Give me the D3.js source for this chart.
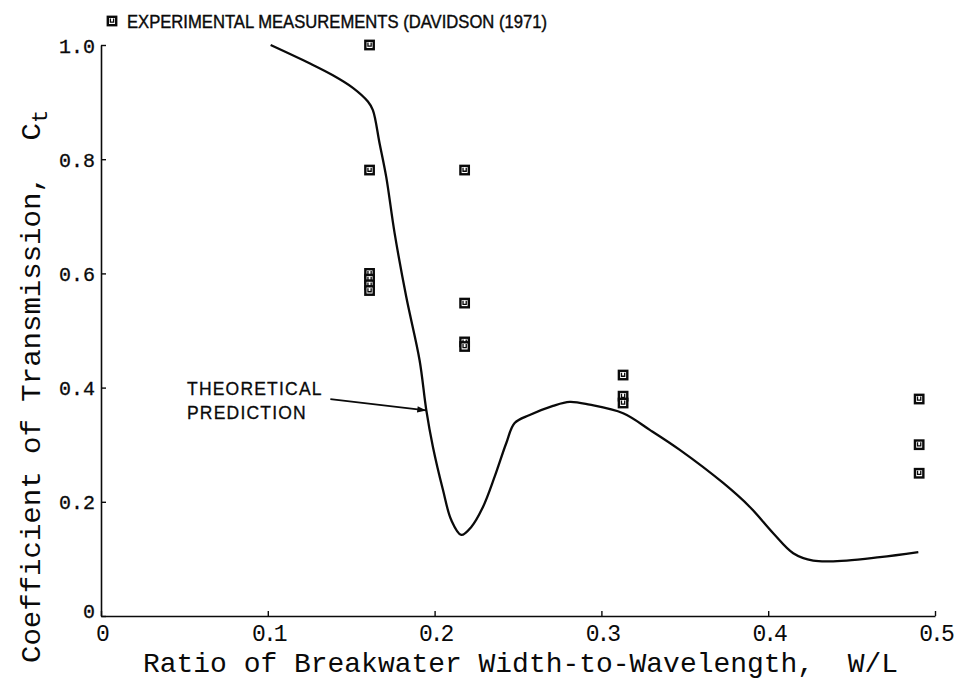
<!DOCTYPE html>
<html>
<head>
<meta charset="utf-8">
<script src="https://cdn.jsdelivr.net/npm/d3@7"></script>
<style>
  body { margin: 0; background: #fff; }
  svg { display: block; }
</style>
</head>
<body>
<svg id="chart" width="956" height="681"></svg>
<script>
// theoretical prediction curve (W/L, Ct)
const curveX = [0.1017, 0.125, 0.139, 0.151, 0.160, 0.163, 0.167, 0.171, 0.176, 0.183, 0.191, 0.195, 0.199,
  0.205, 0.210, 0.216, 0.222, 0.229, 0.236, 0.243, 0.248, 0.257, 0.271, 0.281, 0.293, 0.313, 0.329, 0.347,
  0.373, 0.389, 0.403, 0.415, 0.427, 0.447, 0.467, 0.490];
const curveY = [1.0, 0.968, 0.947, 0.925, 0.901, 0.886, 0.828, 0.769, 0.671, 0.559, 0.448, 0.361, 0.296,
  0.221, 0.168, 0.142, 0.156, 0.191, 0.244, 0.303, 0.338, 0.352, 0.368, 0.375, 0.370, 0.355, 0.326, 0.291,
  0.233, 0.191, 0.145, 0.110, 0.097, 0.097, 0.103, 0.112];

// experimental measurements, Davidson (1971)
const measX = [0.161, 0.161, 0.161, 0.161, 0.161, 0.161,
  0.218, 0.218, 0.218, 0.218,
  0.313, 0.313, 0.313,
  0.4905, 0.4905, 0.4905];
const measY = [1.0, 0.781, 0.600, 0.590, 0.580, 0.570,
  0.781, 0.548, 0.480, 0.472,
  0.422, 0.385, 0.373,
  0.380, 0.300, 0.250];

const xTicks = [0, 0.1, 0.2, 0.3, 0.4, 0.5];
const xTickLabels = ["0", "0.1", "0.2", "0.3", "0.4", "0.5"];
const yTicks = [0, 0.2, 0.4, 0.6, 0.8, 1.0];
const yTickLabels = ["0", "0.2", "0.4", "0.6", "0.8", "1.0"];

const legendText = "EXPERIMENTAL MEASUREMENTS (DAVIDSON (1971)";
const xTitle = "Ratio of Breakwater Width-to-Wavelength,\u00a0\u00a0W/L";
const yTitle = "Coefficient of Transmission,\u00a0\u00a0C";
const noteLines = ["THEORETICAL", "PREDICTION"];

const svg = d3.select("#chart");
const x = d3.scaleLinear().domain([0, 0.5]).range([101, 935]);
const y = d3.scaleLinear().domain([0, 1]).range([616, 45]);

const monoFont = "'Liberation Mono', 'DejaVu Sans Mono', monospace";
const plotFont = "'Liberation Sans Narrow', 'Liberation Sans', 'DejaVu Sans', sans-serif";
const ink = "#0a0a0a";

// axes
const yAxis = d3.axisLeft(y).tickValues(yTicks).tickSizeInner(-5).tickSizeOuter(0).tickPadding(6)
  .tickFormat((d, i) => yTickLabels[i]);
const gy = svg.append("g").attr("transform", `translate(${x(0)},0)`).call(yAxis);
gy.select(".domain").attr("stroke", ink).attr("stroke-width", 1.6);
gy.selectAll(".tick line").attr("stroke", ink).attr("stroke-width", 1.4);
gy.selectAll(".tick text")
  .attr("font-family", monoFont)
  .attr("font-size", 20)
  .attr("fill", ink)
  .attr("stroke", ink).attr("stroke-width", 0.3)
  .attr("dy", (d) => d === 0 ? "0.05em" : "0.35em");

const xAxis = d3.axisBottom(x).tickValues(xTicks).tickSizeInner(-5).tickSizeOuter(0).tickPadding(7)
  .tickFormat((d, i) => xTickLabels[i]);
const gx = svg.append("g").attr("transform", `translate(0,${y(0)})`).call(xAxis);
gx.select(".domain").attr("stroke", ink).attr("stroke-width", 1.6);
gx.selectAll(".tick line").attr("stroke", ink).attr("stroke-width", 1.4);
gx.selectAll(".tick text")
  .attr("font-family", monoFont)
  .attr("font-size", 23)
  .attr("fill", ink)
  .attr("dy", "0.78em")
  .attr("letter-spacing", -3);

// axis titles
svg.append("text")
  .attr("x", 143).attr("y", 672)
  .attr("font-family", monoFont).attr("font-size", 28).attr("fill", ink)
  .attr("textLength", 755).attr("lengthAdjust", "spacingAndGlyphs")
  .text(xTitle);

const yt = svg.append("text")
  .attr("transform", "translate(40,663) rotate(-90)")
  .attr("font-family", monoFont).attr("font-size", 28).attr("fill", ink);
yt.append("tspan").attr("textLength", 540).attr("lengthAdjust", "spacingAndGlyphs").text(yTitle);
yt.append("tspan").attr("dy", 7).attr("font-size", 22).text("t");

// theoretical curve
const line = d3.line().x((d) => x(d[0])).y((d) => y(d[1])).curve(d3.curveCatmullRom.alpha(0.5));
svg.append("path")
  .datum(curveX.map((d, i) => [d, curveY[i]]))
  .attr("d", line)
  .attr("fill", "none")
  .attr("stroke", ink)
  .attr("stroke-width", 2.3);

// measurement markers
function drawMarker(g, cx, cy) {
  g.append("rect")
    .attr("x", cx - 4.2).attr("y", cy - 4.2)
    .attr("width", 8.4).attr("height", 8.4)
    .attr("fill", "#fff").attr("stroke", ink).attr("stroke-width", 2.4);
  g.append("path")
    .attr("d", `M${cx - 1.6},${cy - 2.4}V${cy + 1.2}H${cx + 1.6}V${cy - 2.4}`)
    .attr("fill", "none").attr("stroke", ink).attr("stroke-width", 1.3);
}
const gm = svg.append("g");
measX.forEach((d, i) => drawMarker(gm, x(d), y(measY[i])));

// legend
drawMarker(svg.append("g"), 112, 21);
svg.append("text")
  .attr("x", 127).attr("y", 28)
  .attr("font-family", plotFont).attr("font-size", 18).attr("fill", ink)
  .attr("stroke", ink).attr("stroke-width", 0.4)
  .attr("textLength", 420).attr("lengthAdjust", "spacingAndGlyphs")
  .text(legendText);

// annotation
const tip = [0.195, 0.36];
const tail = [0.1375, 0.380];
svg.append("defs").append("marker")
  .attr("id", "arrow").attr("viewBox", "0 0 10 10")
  .attr("refX", 10).attr("refY", 5)
  .attr("markerWidth", 10).attr("markerHeight", 5)
  .attr("orient", "auto")
  .append("path").attr("d", "M0,1.5L10,5L0,8.5Z").attr("fill", ink);
svg.append("line")
  .attr("x1", x(tail[0])).attr("y1", y(tail[1]))
  .attr("x2", x(tip[0])).attr("y2", y(tip[1]))
  .attr("stroke", ink).attr("stroke-width", 1.8)
  .attr("marker-end", "url(#arrow)");
svg.append("g").selectAll("text").data(noteLines).join("text")
  .attr("x", 187).attr("y", (d, i) => 395 + i * 24)
  .attr("font-family", "'Liberation Sans', 'DejaVu Sans', sans-serif")
  .attr("font-size", 17.5).attr("fill", ink)
  .attr("stroke", ink).attr("stroke-width", 0.3)
  .attr("letter-spacing", 1.2)
  .text((d) => d);
</script>
</body>
</html>
